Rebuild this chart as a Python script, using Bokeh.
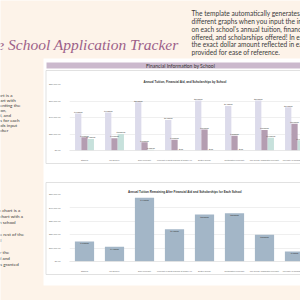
from bokeh.plotting import figure
from bokeh.models import (Range1d, FixedTicker, NumeralTickFormatter, ColumnDataSource,
                          Legend, LegendItem)
from bokeh.transform import dodge
from bokeh.embed import file_html
from bokeh.resources import INLINE
from bokeh.core.properties import value

# ---------------- data ----------------
schools = ["Stanford", "UC Berkeley", "Duke University",
           "University of North Carolina at Chapel Hill", "Boston College",
           "Northeastern University", "The George Washington University",
           "University of Chicago"]
tuition = [45000, 46000, 58500, 37000, 60500, 54000, 60500, 52500]
financial_aid = [16000, 15000, 10000, 13000, 25500, 18000, 25000, 32500]
scholarships = [14000, 20000, 1000, 0, 0, 0, 15500, 12500]
remaining = [15000, 11000, 47500, 24000, 35000, 36000, 20000, 7500]
series_names = ["Tuition", "Financial Aid", "Scholarships"]
ticks1 = [0, 20000, 40000, 60000, 80000]
ticks2 = [0, 10000, 20000, 30000, 40000, 50000]

# ---------------- styles ----------------
CREAM = "#fdf3e9"
TITLE_C = "#9c6088"
TEXT_C = "#3b3b3b"
HEADER = "#cbb9cd"
BOX = "#d9d9d9"
TUITION_C = "#dcdbeb"
AID_C = "#b49db1"
SCHOL_C = "#c7e1dc"
REMAIN_C = "#a3b6c7"
FONT = value("Lato")


def place(fig, left, top):
    fig.styles = {"position": "absolute", "left": f"{left}px", "top": f"{top}px"}


# ---------------- background page ----------------
bg = figure(width=300, height=300, x_range=Range1d(0, 300), y_range=Range1d(300, 0),
            output_backend="svg", toolbar_location=None, min_border=0)
bg.axis.visible = False
bg.grid.visible = False
bg.outline_line_color = None
bg.background_fill_color = CREAM
bg.border_fill_color = CREAM
place(bg, 0, 0)

bg.quad(left=[43], right=[300], top=[58], bottom=[285], fill_color="white", line_color=None)
bg.quad(left=[46], right=[301], top=[62], bottom=[68], fill_color=HEADER, line_color=None)
bg.quad(left=[45.5, 45.5], right=[330, 330], top=[70, 182], bottom=[163, 274],
        fill_color="white", line_color=BOX, line_width=0.8)

bg.text(x=[180], y=[65.2], text=["Financial Information by School"], text_align="center",
        text_baseline="middle", text_font=FONT, text_font_size="5px", text_color="#333333")

bg.text(x=[178], y=[44], text=["Graduate School Application Tracker"], text_align="right",
        text_baseline="alphabetic", text_font=value("Liberation Serif"),
        text_font_style="italic", text_font_size="15.5px", text_color=TITLE_C)

para = ["The template automatically generates two",
        "different graphs when you input the information",
        "on each school's annual tuition, financial aid",
        "offered, and scholarships offered!  In each graph,",
        "the exact dollar amount reflected in each bar is",
        "provided for ease of reference."]
bg.text(x=[191] * len(para), y=[12.7 + 7.8 * i for i in range(len(para))], text=para,
        text_baseline="middle", text_font=FONT, text_font_size="6.6px", text_color=TEXT_C)

left1 = ["The top chart is a", "grouped chart with", "bars representing the",
         "annual tuition,", "financial aid, and", "scholarships for each",
         "of the schools input", "into the tracker"]
bg.text(x=[-23] * len(left1), y=[94 + 5 * i for i in range(len(left1))], text=left1,
        text_baseline="middle", text_font=FONT, text_font_size="4.6px", text_color=TEXT_C)

left2 = ["The bottom chart is a", "simple bar chart with a", "bar for each school", "",
         "showing the rest of the", "total annual", "", "tuition after the",
         "financial aid and", "scholarships granted"]
bg.text(x=[-23] * len(left2), y=[209 + 6 * i for i in range(len(left2))], text=left2,
        text_baseline="middle", text_font=FONT, text_font_size="4.6px", text_color=TEXT_C)


# ---------------- charts ----------------
def chart(height, top, bottom, ymax, ticks, title):
    p = figure(width=254, height=height, x_range=Range1d(-0.5, 7.2), y_range=Range1d(0, ymax),
               output_backend="svg", toolbar_location=None,
               min_border_left=20, min_border_right=0,
               min_border_top=top, min_border_bottom=bottom)
    p.background_fill_alpha = 0
    p.border_fill_alpha = 0
    p.outline_line_color = None
    p.xgrid.visible = False
    p.ygrid.ticker = FixedTicker(ticks=ticks)
    p.ygrid.grid_line_color = "#e4e4e4"
    p.ygrid.grid_line_width = 0.6
    p.yaxis.ticker = FixedTicker(ticks=ticks)
    p.yaxis.formatter = NumeralTickFormatter(format="$0,0.00")
    p.yaxis.axis_line_color = None
    p.yaxis.major_tick_line_color = None
    p.yaxis.minor_tick_line_color = None
    p.yaxis.major_label_text_font_size = "2.3px"
    p.yaxis.major_label_text_color = "#666666"
    p.yaxis.major_label_standoff = 3
    p.xaxis.ticker = FixedTicker(ticks=list(range(len(schools))))
    p.xaxis.major_label_overrides = {i: s for i, s in enumerate(schools)}
    p.xaxis.axis_line_color = BOX
    p.xaxis.axis_line_width = 0.6
    p.xaxis.major_tick_line_color = None
    p.xaxis.minor_tick_line_color = None
    p.xaxis.major_label_text_font_size = "1.9px"
    p.xaxis.major_label_text_color = "#666666"
    p.xaxis.major_label_standoff = 2
    p.title.text = title
    p.title.align = "center"
    p.title.text_font_size = "3px"
    p.title.text_font_style = "bold"
    p.title.text_color = "#333333"
    p.title.standoff = 3
    return p


def legend(items, loc):
    lg = Legend(items=items, orientation="horizontal", location=loc,
                label_text_font_size="2.1px", label_text_color="#666666",
                glyph_width=3, glyph_height=2, label_height=2, label_width=2,
                label_standoff=1, spacing=4, padding=0, margin=0,
                border_line_color=None, background_fill_alpha=0)
    return lg


def money(v):
    return [f"${x:,.2f}" for x in v]


idx = list(range(len(schools)))
src1 = ColumnDataSource(dict(idx=idx, tuition=tuition, aid=financial_aid, schol=scholarships,
                             lt=money(tuition), la=money(financial_aid), ls=money(scholarships)))

c1 = chart(93, 14, 13, 80000, ticks1, "Annual Tuition, Financial Aid, and Scholarships by School")
place(c1, 46, 70)
bw = 0.21
r_t = c1.vbar(x=dodge("idx", -bw, range=c1.x_range), top="tuition", width=bw, source=src1,
              fill_color=TUITION_C, line_color=None)
r_a = c1.vbar(x=dodge("idx", 0, range=c1.x_range), top="aid", width=bw, source=src1,
              fill_color=AID_C, line_color=None)
r_s = c1.vbar(x=dodge("idx", bw, range=c1.x_range), top="schol", width=bw, source=src1,
              fill_color=SCHOL_C, line_color=None)
for off, col, lab in [(-bw, "tuition", "lt"), (0, "aid", "la"), (bw, "schol", "ls")]:
    c1.text(x=dodge("idx", off, range=c1.x_range), y=col, text=lab, source=src1,
            text_align="center", text_baseline="bottom", y_offset=-0.6,
            text_font=FONT, text_font_size="1.7px", text_color="#404040")
c1.add_layout(legend([LegendItem(label=series_names[0], renderers=[r_t]),
                      LegendItem(label=series_names[1], renderers=[r_a]),
                      LegendItem(label=series_names[2], renderers=[r_s])], (100, -9)))

src2 = ColumnDataSource(dict(idx=idx, rem=remaining, lr=money(remaining)))
c2 = chart(92, 12, 13, 50000, ticks2,
           "Annual Tuition Remaining After Financial Aid and Scholarships for Each School")
place(c2, 46, 182)
r_r = c2.vbar(x="idx", top="rem", width=0.64, source=src2, fill_color=REMAIN_C, line_color=None)
c2.text(x="idx", y="rem", text="lr", source=src2, text_align="center", text_baseline="top",
        y_offset=1, text_font=FONT, text_font_size="1.7px", text_color="#333333")
c2.add_layout(legend([LegendItem(label="Value", renderers=[r_r])], (113, -9)))

open("out.html", "w").write(file_html([bg, c1, c2], INLINE))
